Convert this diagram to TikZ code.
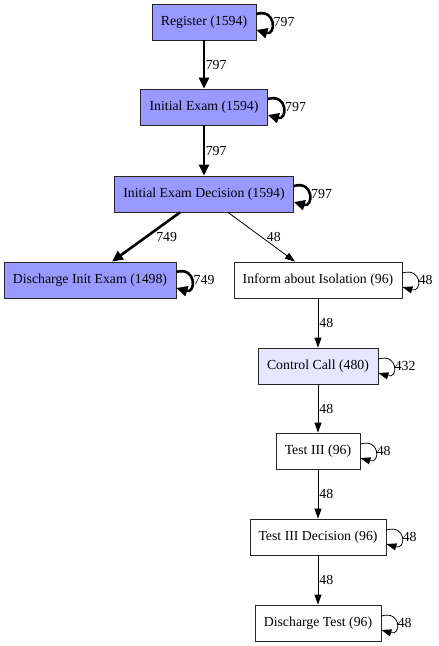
\documentclass[tikz,border=0pt]{standalone}
\usepackage{fontspec}
\setmainfont{Liberation Serif}
\usetikzlibrary{arrows.meta}
\definecolor{actblue}{HTML}{9999FF}
\definecolor{actlight}{HTML}{E6E6FF}
\begin{document}
\begin{tikzpicture}[x=1pt,y=-1pt,
  act/.style={draw=black!85, line width=0.8pt, minimum height=36pt, inner sep=0pt, font=\fontsize{13.8}{16}\selectfont},
  thickedge/.style={line width=2.6pt, -{Triangle[length=11pt,width=10pt]}},
  thinedge/.style={line width=0.8pt, -{Triangle[length=10pt,width=7pt]}},
  lbl/.style={font=\fontsize{13.8}{16}\selectfont, inner sep=1pt},
]
\useasboundingbox (0,0) rectangle (439,646);

\node[act, fill=actblue, minimum width=104pt] (reg) at (204,22) {Register (1594)};
\node[act, fill=actblue, minimum width=127pt] (ie) at (204,107) {Initial Exam (1594)};
\node[act, fill=actblue, minimum width=179pt] (ied) at (204,194) {Initial Exam Decision (1594)};
\node[act, fill=actblue, minimum width=172pt] (die) at (90,280) {Discharge Init Exam (1498)};
\node[act, fill=white, minimum width=168pt] (inf) at (318,280) {Inform about Isolation (96)};
\node[act, fill=actlight, minimum width=120pt] (cc) at (318,366) {Control Call (480)};
\node[act, fill=white, minimum width=84pt] (t3) at (318,451) {Test III (96)};
\node[act, fill=white, minimum width=136pt] (t3d) at (318,537) {Test III Decision (96)};
\node[act, fill=white, minimum width=126pt] (dt) at (318,623) {Discharge Test (96)};

% main edges
\draw[thickedge] (reg.south) -- (ie.north) node[lbl, pos=0.5, anchor=west, inner sep=0.5pt] {797};
\draw[thickedge] (ie.south) -- (ied.north) node[lbl, pos=0.5, anchor=west, inner sep=0.5pt] {797};
\draw[thickedge] ([xshift=-24pt]ied.south) -- ([xshift=22pt]die.north) node[lbl, pos=0.5, anchor=west, xshift=8pt] {749};
\draw[thinedge] ([xshift=24pt]ied.south) -- ([xshift=-23pt]inf.north) node[lbl, pos=0.5, anchor=west, xshift=4pt] {48};
\draw[thinedge] (inf.south) -- (cc.north) node[lbl, pos=0.5, anchor=west] {48};
\draw[thinedge] (cc.south) -- (t3.north) node[lbl, pos=0.5, anchor=west] {48};
\draw[thinedge] (t3.south) -- (t3d.north) node[lbl, pos=0.5, anchor=west] {48};
\draw[thinedge] (t3d.south) -- (dt.north) node[lbl, pos=0.5, anchor=west] {48};

% self loops
\foreach \n/\v in {reg/797, ie/797, ied/797, die/749}{
  \draw[thickedge] ([yshift=8pt]\n.east) .. controls +(20,-6) and +(20,6) .. ([yshift=-8pt]\n.east)
    node[lbl, pos=0.5, anchor=west] {\v};
}
\foreach \n/\v in {inf/48, cc/432, t3/48, t3d/48, dt/48}{
  \draw[thinedge] ([yshift=7pt]\n.east) .. controls +(20,-6) and +(20,6) .. ([yshift=-7pt]\n.east)
    node[lbl, pos=0.5, anchor=west] {\v};
}
\end{tikzpicture}
\end{document}
